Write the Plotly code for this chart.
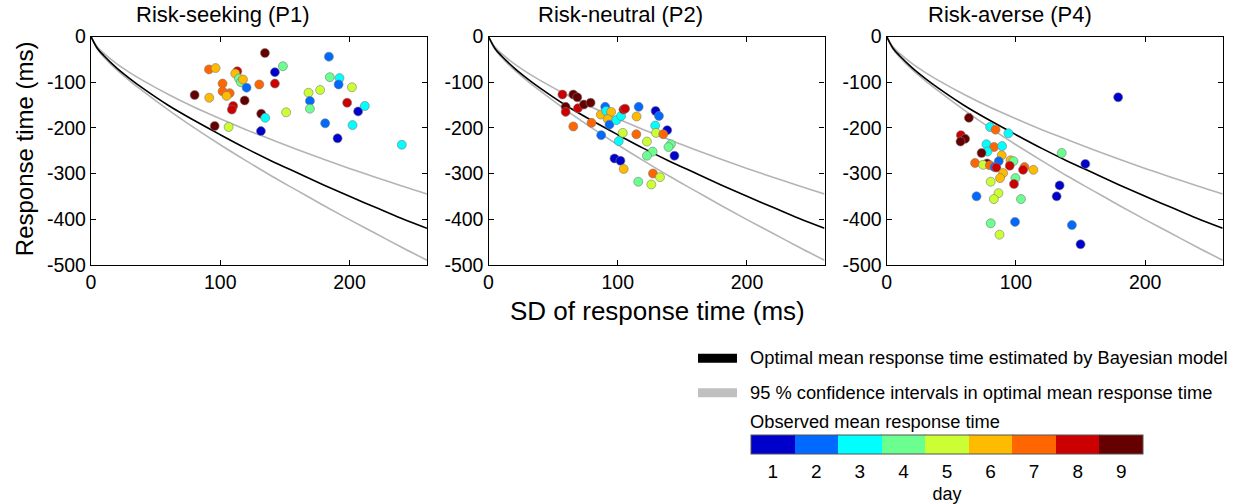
import plotly.graph_objects as go

# ---------------- data ----------------
panel_titles = ["Risk-seeking (P1)", "Risk-neutral (P2)", "Risk-averse (P4)"]
day_labels = ["1", "2", "3", "4", "5", "6", "7", "8", "9"]
day_colors = ["#0000CD", "#0069FF", "#00FFFF", "#6AFF8E", "#CCFF33",
              "#FFBB00", "#FF6600", "#CC0000", "#660000"]

# model curves (same in every panel)
curve_sd = [0, 5, 10, 20, 30, 40, 60, 80, 100, 120, 140, 160, 180, 200, 220, 240, 260]
optimal_rt = [0, -26, -42, -69, -92, -113, -151, -184, -215, -245, -273, -299, -325, -350, -374, -398, -420]
ci_upper = [0, -23, -37, -60, -79, -96, -127, -155, -180, -204, -226, -248, -269, -289, -308, -327, -345]
ci_lower = [0, -28, -45, -73, -97, -119, -161, -200, -237, -272, -306, -338, -370, -401, -431, -461, -490]

# P1 observations
p1_sd = [134.6, 91.3, 96.4, 113.2, 111.6, 114.5, 116.0, 117.6, 120.4, 101.8, 101.8, 107.3,
         104.9, 80.2, 91.5, 110.0, 109.0, 118.9, 95.7, 106.5, 130.2, 142.3, 148.5, 142.3,
         131.7, 134.8, 131.5, 151.0, 184.1, 184.8, 192.3, 191.6, 168.3, 177.3, 201.9, 169.4,
         169.4, 198.2, 206.7, 211.9, 181.2, 202.4, 190.8, 240.5]
p1_rt = [-36, -72, -69, -76, -81, -92, -100, -94, -112, -103, -120, -124,
         -130, -128, -134, -152, -160, -140, -196, -198, -105, -78, -65, -103,
         -169, -178, -207, -166, -44, -89, -91, -105, -123, -117, -111, -141,
         -158, -145, -164, -152, -190, -194, -223, -237]
p1_day = [9, 7, 6, 8, 6, 4, 4, 6, 2, 7, 7, 7,
          6, 9, 6, 8, 8, 9, 9, 5, 7, 1, 4, 8,
          9, 3, 1, 5, 2, 4, 3, 2, 5, 5, 5, 2,
          4, 8, 1, 3, 2, 3, 1, 3]

# P2 observations
p2_sd = [57.2, 65.6, 68.7, 59.7, 59.7, 69.2, 73.8, 79.0, 65.6, 79.7, 90.3, 86.9,
         91.0, 94.9, 92.3, 93.6, 87.2, 99.0, 102.6, 104.4, 105.7, 103.9, 100.8, 97.5,
         102.1, 104.6, 116.2, 114.6, 114.4, 129.3, 131.9, 129.0, 129.6, 138.3, 135.2, 122.6,
         127.0, 122.6, 141.1, 139.3, 143.9, 127.3, 132.7, 115.9, 126.0]
p2_rt = [-127, -127, -133, -154, -165, -157, -149, -145, -197, -189, -154, -171,
         -163, -165, -181, -193, -216, -183, -174, -160, -158, -211, -229, -267,
         -272, -290, -154, -175, -214, -163, -174, -195, -211, -205, -214, -230,
         -252, -261, -236, -242, -261, -300, -308, -318, -324]
p2_day = [8, 9, 9, 9, 8, 8, 9, 9, 7, 7, 2, 6,
          3, 6, 6, 2, 2, 3, 3, 8, 8, 5, 3, 1,
          1, 6, 2, 6, 7, 1, 2, 3, 5, 1, 7, 5,
          4, 4, 4, 4, 1, 7, 5, 4, 5]

# P4 observations
p4_sd = [179.1, 63.6, 80.0, 84.2, 94.2, 57.4, 60.7, 57.1, 77.2, 83.1, 89.3, 78.0,
         73.4, 89.0, 95.8, 98.1, 86.7, 68.4, 77.7, 74.6, 79.8, 83.4, 84.9, 95.2,
         106.6, 105.5, 113.5, 90.1, 87.7, 99.6, 98.5, 80.5, 86.5, 82.9, 103.9, 69.5,
         135.4, 153.7, 133.8, 131.5, 80.5, 99.3, 87.3, 143.3, 150.0]
p4_rt = [-133, -178, -198, -204, -212, -216, -224, -230, -236, -242, -240, -252,
         -255, -260, -271, -273, -273, -277, -278, -281, -282, -286, -287, -283,
         -286, -292, -292, -299, -310, -310, -323, -318, -343, -356, -356, -350,
         -255, -279, -326, -350, -409, -406, -434, -413, -455]
p4_day = [1, 9, 3, 7, 3, 8, 9, 9, 3, 7, 3, 3,
          9, 6, 6, 4, 2, 7, 9, 5, 7, 2, 8, 8,
          7, 8, 6, 6, 6, 4, 8, 5, 5, 5, 4, 2,
          4, 1, 1, 1, 4, 2, 5, 2, 1]

x_tick_vals = [0, 100, 200]
x_tick_text = ["0", "100", "200"]
y_tick_vals = [0, -100, -200, -300, -400, -500]
y_tick_text = ["0", "-100", "-200", "-300", "-400", "-500"]

legend_texts = ["Optimal mean response time estimated by Bayesian model",
                "95 % confidence intervals in optimal mean response time",
                "Observed mean response time"]

# ---------------- figure ----------------
W, H = 1245, 504
FONT = "Arial, Liberation Sans, sans-serif"
x_domains = [(91 / W, 427 / W), (488.5 / W, 824.5 / W), (886.7 / W, 1222.7 / W)]
y_domain = (1 - 268 / H, 1 - 37 / H)
title_centers = [223, 620, 1010]

fig = go.Figure()
obs = [(p1_sd, p1_rt, p1_day), (p2_sd, p2_rt, p2_day), (p4_sd, p4_rt, p4_day)]

for i in range(3):
    xa = "x" if i == 0 else f"x{i+1}"
    ya = "y" if i == 0 else f"y{i+1}"
    for ys, col in [(ci_upper, "#b4b4b4"), (ci_lower, "#b4b4b4"), (optimal_rt, "#000000")]:
        fig.add_trace(go.Scatter(x=curve_sd, y=ys, mode="lines", xaxis=xa, yaxis=ya,
                                 line=dict(color=col, width=1.6, shape="spline"),
                                 showlegend=False, hoverinfo="skip"))
    sd, rt, day = obs[i]
    fig.add_trace(go.Scatter(x=sd, y=rt, mode="markers", xaxis=xa, yaxis=ya,
                             marker=dict(size=9, color=day, coloraxis="coloraxis",
                                         line=dict(color="#7a7a7a", width=0.6)),
                             showlegend=False))

axis_common = dict(showline=True, linecolor="black", linewidth=1.3, mirror="ticks",
                   ticks="inside", ticklen=5, tickwidth=1.2, tickcolor="black",
                   showgrid=False, zeroline=False, automargin=False,
                   tickfont=dict(family=FONT, size=19.5, color="black"))

layout = dict(
    width=W, height=H, margin=dict(l=0, r=0, t=0, b=0),
    paper_bgcolor="white", plot_bgcolor="white",
    font=dict(family=FONT, color="black"),
    showlegend=False,
)
for i in range(3):
    xk = "xaxis" if i == 0 else f"xaxis{i+1}"
    yk = "yaxis" if i == 0 else f"yaxis{i+1}"
    ya = "y" if i == 0 else f"y{i+1}"
    xa = "x" if i == 0 else f"x{i+1}"
    layout[xk] = dict(axis_common, domain=list(x_domains[i]), range=[0, 260],
                      tickvals=x_tick_vals, ticktext=x_tick_text, anchor=ya)
    layout[yk] = dict(axis_common, domain=list(y_domain), range=[-500, 0],
                      tickvals=y_tick_vals, ticktext=y_tick_text, anchor=xa)

# discrete colour scale
cs = []
for k, c in enumerate(day_colors):
    cs.append([k / 9, c])
    cs.append([(k + 1) / 9, c])

layout["coloraxis"] = dict(
    colorscale=cs, cmin=0.5, cmax=9.5,
    colorbar=dict(orientation="h", x=751 / W, xanchor="left", y=1 - 440 / H, yanchor="top",
                  lenmode="pixels", len=392, thicknessmode="pixels", thickness=19,
                  xpad=0, ypad=0, outlinecolor="#555555", outlinewidth=1,
                  tickvals=[1, 2, 3, 4, 5, 6, 7, 8, 9], ticktext=day_labels, ticks="",
                  tickfont=dict(family=FONT, size=19, color="black"),
                  title=dict(text="day", side="bottom", font=dict(family=FONT, size=18, color="black"))),
)
fig.update_layout(**layout)

annotations = []
for i in range(3):
    annotations.append(dict(text=panel_titles[i], x=title_centers[i] / W, y=1 - 15 / H,
                            xref="paper", yref="paper",
                            showarrow=False, xanchor="center", yanchor="middle",
                            font=dict(family=FONT, size=22, color="black")))
annotations.append(dict(text="Response time (ms)", x=24 / W, y=1 - 151 / H, xref="paper", yref="paper",
                        showarrow=False, textangle=-90, xanchor="center", yanchor="middle",
                        font=dict(family=FONT, size=24, color="black")))
annotations.append(dict(text="SD of response time (ms)", x=657 / W, y=1 - 315 / H, xref="paper", yref="paper",
                        showarrow=False, xanchor="center", yanchor="middle",
                        font=dict(family=FONT, size=26, color="black")))
for txt, py in zip(legend_texts, [362, 397, 427]):
    annotations.append(dict(text=txt, x=748 / W, y=1 - py / H, xref="paper", yref="paper",
                            showarrow=False, xanchor="left", yanchor="middle",
                            font=dict(family=FONT, size=18.3, color="black")))

shapes = [
    dict(type="rect", xref="paper", yref="paper", x0=698 / W, x1=737 / W,
         y0=1 - 367 / H, y1=1 - 358 / H, fillcolor="black", line=dict(width=0)),
    dict(type="rect", xref="paper", yref="paper", x0=698 / W, x1=737 / W,
         y0=1 - 402 / H, y1=1 - 393 / H, fillcolor="#c0c0c0", line=dict(width=0)),
]
seg = 392 / 9
for k in range(1, 9):
    xx = (751 + k * seg) / W
    shapes.append(dict(type="line", xref="paper", yref="paper", x0=xx, x1=xx,
                       y0=1 - 459 / H, y1=1 - 440 / H, line=dict(color="#333333", width=1)))

fig.update_layout(annotations=annotations, shapes=shapes)
fig.write_html("out.html", config={"displayModeBar": False},
               post_script="document.body.style.margin='0px';")
